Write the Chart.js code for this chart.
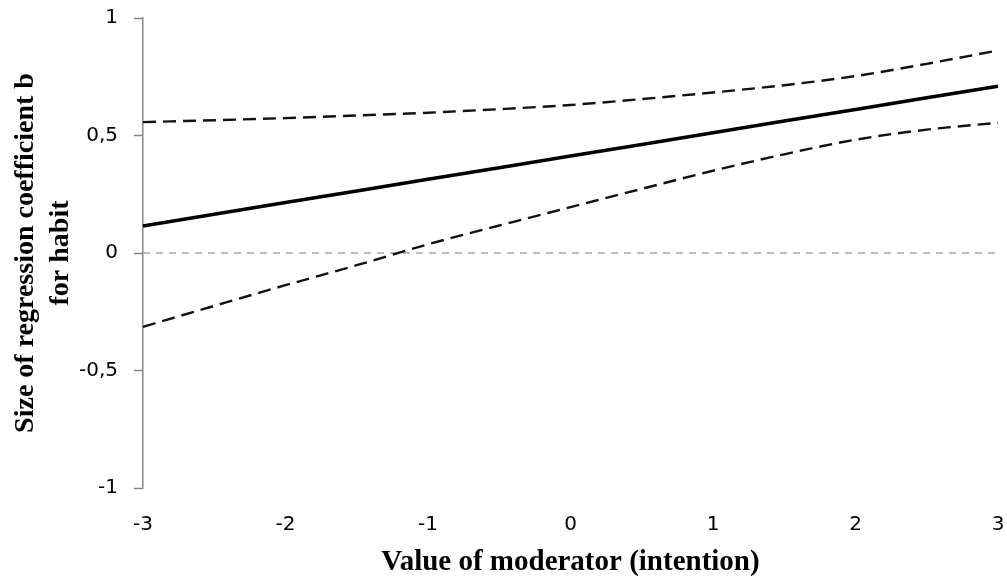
<!DOCTYPE html>
<html>
<head>
<meta charset="utf-8">
<script src="https://cdn.jsdelivr.net/npm/chart.js@4"></script>
<style>
  html, body { margin: 0; padding: 0; background: #fff; }
  #wrap { width: 1007px; height: 584px; }
</style>
</head>
<body>
<div id="wrap"><canvas id="c" width="1007" height="584"></canvas></div>
<script>
// Moderator values (x)
const moderatorValues = [-3, -2.5, -2, -1.5, -1, -0.5, 0, 0.5, 1, 1.5, 2, 2.5, 3];
// Regression coefficient b for habit (solid line)
const coefficientB = [0.115, 0.165, 0.215, 0.264, 0.314, 0.363, 0.413, 0.462, 0.512, 0.562, 0.611, 0.661, 0.71];
// Upper confidence bound (dashed)
const upperBound = [0.557, 0.565, 0.574, 0.585, 0.597, 0.612, 0.63, 0.655, 0.683, 0.714, 0.753, 0.805, 0.862];
// Lower confidence bound (dashed)
const lowerBound = [-0.314, -0.225, -0.137, -0.052, 0.037, 0.117, 0.195, 0.273, 0.35, 0.42, 0.482, 0.525, 0.554];
// Zero reference line
const zeroLineX = [-3, 3];
const zeroLineY = [0, 0];
// Axis ticks
const xTicks = [-3, -2, -1, 0, 1, 2, 3];
const yTicks = [-1, -0.5, 0, 0.5, 1];
const xTitle = 'Value of moderator (intention)';
const yTitle = ['Size of regression coefficient b', 'for habit'];

const toPts = (xs, ys) => xs.map((x, i) => ({ x: x, y: ys[i] }));

new Chart(document.getElementById('c'), {
  type: 'line',
  data: {
    datasets: [
      {
        label: 'b',
        data: toPts(moderatorValues, coefficientB),
        borderColor: '#000',
        borderWidth: 3.5,
        pointRadius: 0,
        order: 1,
        clip: 6
      },
      {
        label: 'upper',
        data: toPts(moderatorValues, upperBound),
        borderColor: '#111',
        borderWidth: 2.4,
        borderDash: [13, 7],
        pointRadius: 0,
        cubicInterpolationMode: 'monotone',
        order: 2,
        clip: 6
      },
      {
        label: 'lower',
        data: toPts(moderatorValues, lowerBound),
        borderColor: '#111',
        borderWidth: 2.4,
        borderDash: [13, 7],
        pointRadius: 0,
        cubicInterpolationMode: 'monotone',
        order: 3,
        clip: 6
      },
      {
        label: 'zero',
        data: toPts(zeroLineX, zeroLineY),
        borderColor: '#a6a6a6',
        borderWidth: 1.3,
        borderDash: [7, 6],
        pointRadius: 0,
        order: 10
      }
    ]
  },
  options: {
    responsive: false,
    animation: false,
    devicePixelRatio: 1,
    layout: { padding: 0 },
    plugins: {
      legend: { display: false },
      tooltip: { enabled: false }
    },
    scales: {
      x: {
        type: 'linear',
        min: -3,
        max: 3,
        afterBuildTicks: (s) => { s.ticks = xTicks.map(v => ({ value: v })); },
        afterFit: (s) => { s.height = 96; s.paddingLeft = 0; s.paddingRight = 9; },
        ticks: {
          padding: 25,
          color: '#000',
          font: { family: 'DejaVu Sans', size: 20 },
          callback: (v) => String(v)
        },
        grid: { display: false, drawTicks: false },
        border: { display: false },
        title: {
          display: true,
          text: xTitle,
          color: '#000',
          font: { family: 'Liberation Serif', size: 29, weight: 'bold', lineHeight: 1.2 },
          padding: { top: 0, bottom: 4 }
        }
      },
      y: {
        min: -1,
        max: 1,
        afterBuildTicks: (s) => { s.ticks = yTicks.map(v => ({ value: v })); },
        afterFit: (s) => { s.width = 143; s.paddingTop = 18; s.paddingBottom = 0; },
        ticks: {
          padding: 16,
          color: '#000',
          font: { family: 'DejaVu Sans', size: 20 },
          callback: (v) => String(v).replace('.', ',')
        },
        grid: {
          drawOnChartArea: false,
          drawTicks: true,
          tickLength: 9,
          color: '#868686',
          tickColor: '#868686',
          tickWidth: 1.5
        },
        border: { display: true, color: '#868686', width: 1.5 },
        title: {
          display: true,
          text: yTitle,
          color: '#000',
          font: { family: 'Liberation Serif', size: 28, weight: 'bold', lineHeight: 1.25 },
          padding: { top: 8, bottom: 0 }
        }
      }
    }
  }
});
</script>
</body>
</html>
